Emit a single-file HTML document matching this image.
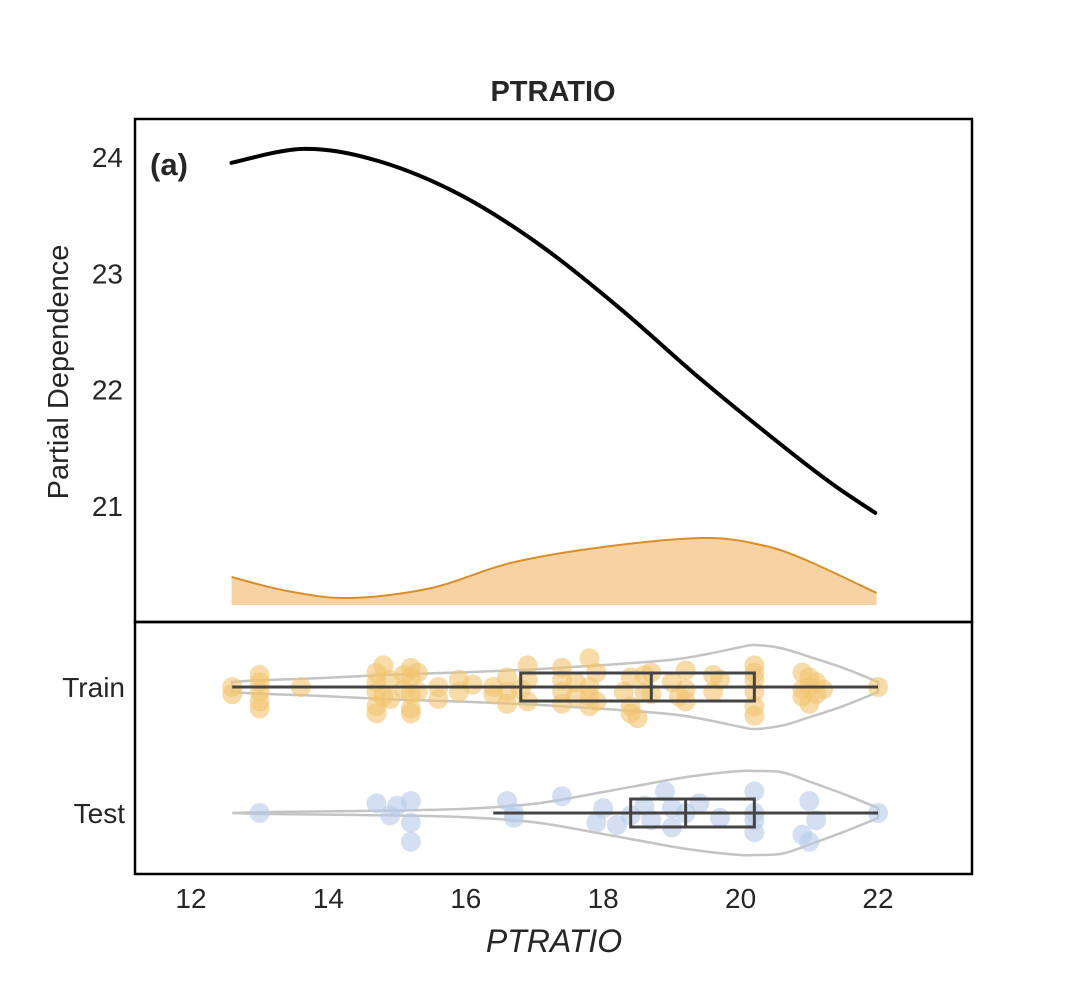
<!DOCTYPE html>
<html><head><meta charset="utf-8"><style>
body{margin:0;background:#fff;}
svg text{font-family:"Liberation Sans",sans-serif;fill:#262626;}
</style></head><body>
<svg id="c" width="1080" height="1000" xmlns="http://www.w3.org/2000/svg">
<text x="553" y="101" font-size="29" font-weight="bold" text-anchor="middle">PTRATIO</text>
<text x="554" y="952" font-size="32" font-style="italic" text-anchor="middle">PTRATIO</text>
<text transform="translate(68,372) rotate(-90)" font-size="29" text-anchor="middle">Partial Dependence</text>
<text x="150" y="175" font-size="31" font-weight="bold">(a)</text>
<g id="g"></g>
<rect x="135" y="119" width="837" height="503" fill="none" stroke="#000" stroke-width="2.5"/>
<rect x="135" y="622" width="837" height="252" fill="none" stroke="#000" stroke-width="2.5"/>
</svg>
<script>
const pdX=[12.59,13.64,14.70,15.87,17.04,18.22,19.38,20.56,21.33,21.96];
const pdY=[23.95,24.07,23.97,23.69,23.26,22.71,22.11,21.54,21.19,20.94];
const densX=[12.59,13.4,14.31,15.5,16.65,18.0,19.46,20.3,20.95,21.98];
const densV=[28,14,7,17,42,58,67,60,45,12];
const yTicks=[21,22,23,24];
const xTicks=[12,14,16,18,20,22];
const groups=["Train","Test"];
const boxStats=[[12.6,16.8,18.7,20.2,22.0],[16.4,18.4,19.2,20.2,22.0]];
const violX=[12.6,13,14,15,16,17,18,19,19.5,20,20.2,20.6,21,21.5,22];
const violTrain=[0.12,0.16,0.22,0.3,0.35,0.42,0.52,0.65,0.78,0.95,1.0,0.92,0.72,0.45,0.12];
const violTest=[0.0,0.02,0.04,0.06,0.1,0.22,0.5,0.8,0.92,1.0,1.0,0.97,0.75,0.45,0.12];
const trainX=[12.6,12.6,13,13,13,13,13,13.6,14.7,14.7,14.7,14.7,14.7,14.8,14.8,14.9,14.9,15.1,15.1,15.2,15.2,15.2,15.2,15.2,15.3,15.3,15.6,15.6,15.9,15.9,16.1,16.4,16.4,16.6,16.6,16.6,16.8,16.9,16.9,16.9,17.4,17.4,17.4,17.4,17.6,17.6,17.8,17.8,17.8,17.8,17.9,17.9,18.3,18.4,18.4,18.4,18.5,18.6,18.6,18.7,18.7,19.0,19.1,19.2,19.2,19.2,19.6,19.6,19.7,20.2,20.2,20.2,20.2,20.2,20.2,20.9,20.9,20.9,21,21,21,21.1,21.1,21.2,22];
const trainJ=[0,0.3,-0.5,0.6,0.2,-0.2,0.9,0,-0.6,0.2,0.8,-0.2,1.1,0.4,-0.9,-0.3,0.5,0.1,-0.5,-0.8,0.9,0.3,-0.4,1.1,0.2,-0.6,0,0.5,0.2,-0.3,-0.1,0,0.3,0.2,-0.4,0.7,0.1,0.6,-0.3,-0.9,-0.8,0.2,0.7,-0.3,-0.2,0.4,0.4,-1.2,0,0.8,0.6,-0.6,0.2,0.8,-0.4,1.1,1.3,0.2,-0.5,-0.6,0.3,-0.2,0.4,0.6,-0.7,0.1,0.2,-0.5,-0.3,-0.9,0.2,0.8,-0.3,1.2,-0.6,-0.6,0.4,0.1,0,0.7,-0.4,-0.2,0.3,0.1,0];
const testX=[13,14.7,14.9,15.0,15.2,15.2,15.2,16.6,16.7,16.7,17.4,17.9,18,18.2,18.4,18.6,18.7,18.9,19.0,19.0,19.2,19.4,19.7,20.2,20.2,20.2,20.2,20.9,21,21,21.1,22];
const testJ=[0,-0.4,0.1,-0.3,-0.5,0.4,1.2,-0.5,0.2,0,-0.7,0.4,-0.2,0.5,0.1,-0.3,0.3,-0.9,0.6,-0.2,0,-0.4,0.2,-0.9,0.3,0.8,0,0.9,-0.5,1.2,0.3,0];
const sx=v=>191+(v-12)*68.7;
const sy=v=>157+(24-v)*116.3;
const NS="http://www.w3.org/2000/svg",g=document.getElementById('g');
function el(t,a){const e=document.createElementNS(NS,t);for(const k in a)e.setAttribute(k,a[k]);g.appendChild(e);return e;}
function spline(xs,ys){let d=`M${xs[0]},${ys[0]}`;for(let i=0;i<xs.length-1;i++){const x0=xs[Math.max(i-1,0)],y0=ys[Math.max(i-1,0)],x3=xs[Math.min(i+2,xs.length-1)],y3=ys[Math.min(i+2,xs.length-1)];d+=` C${xs[i]+(xs[i+1]-x0)/6},${ys[i]+(ys[i+1]-y0)/6} ${xs[i+1]-(x3-xs[i])/6},${ys[i+1]-(y3-ys[i])/6} ${xs[i+1]},${ys[i+1]}`;}return d;}
yTicks.forEach(t=>{const e=el('text',{x:123,y:sy(t)+10,'font-size':28,'text-anchor':'end'});e.textContent=t;

});
xTicks.forEach(t=>{const e=el('text',{x:sx(t),y:908,'font-size':28,'text-anchor':'middle'});e.textContent=t;

});
const base=605,dxs=densX.map(sx),dys=densV.map(v=>base-v);
let dp=spline(dxs,dys);
const df=el('path',{d:dp+` L${dxs[dxs.length-1]},${base} L${dxs[0]},${base} Z`,fill:'#f7d3a3',stroke:'none'});


const dl=el('path',{d:dp,fill:'none',stroke:'#d98d2b','stroke-width':2});


const pl=el('path',{d:spline(pdX.map(sx),pdY.map(sy)),fill:'none',stroke:'#000','stroke-width':4,'stroke-linecap':'round'});


const cy=[687,813],cols=['#f2c46f','#b7cbea'],viols=[violTrain,violTest],pts=[[trainX,trainJ],[testX,testJ]];
groups.forEach((gn,i)=>{
 const lab=el('text',{x:125,y:cy[i]+10,'font-size':28,'text-anchor':'end'});lab.textContent=gn;
 
 
 const xs=violX.map(sx),top=viols[i].map(v=>cy[i]-v*42),bot=viols[i].map(v=>cy[i]+v*42);
 const vp=spline(xs,top)+' '+spline(xs.slice().reverse(),bot.slice().reverse()).replace('M','L')+'Z';
 const v=el('path',{d:vp,fill:'none',stroke:'#c4c4c4','stroke-width':2.5});
 
 
 pts[i][0].forEach((x,k)=>{const c=el('circle',{cx:sx(x),cy:cy[i]+pts[i][1][k]*24,r:10,fill:cols[i],'fill-opacity':0.6});
  
  });
 const s=boxStats[i];
 const w=el('line',{x1:sx(s[0]),x2:sx(s[4]),y1:cy[i],y2:cy[i],stroke:'#444','stroke-width':3});
 
 
 const b=el('rect',{x:sx(s[1]),y:cy[i]-14,width:sx(s[3])-sx(s[1]),height:28,fill:'none',stroke:'#444','stroke-width':3});
 
 
 const m=el('line',{x1:sx(s[2]),x2:sx(s[2]),y1:cy[i]-14,y2:cy[i]+14,stroke:'#444','stroke-width':3});
 
 
});
</script>
</body></html>
